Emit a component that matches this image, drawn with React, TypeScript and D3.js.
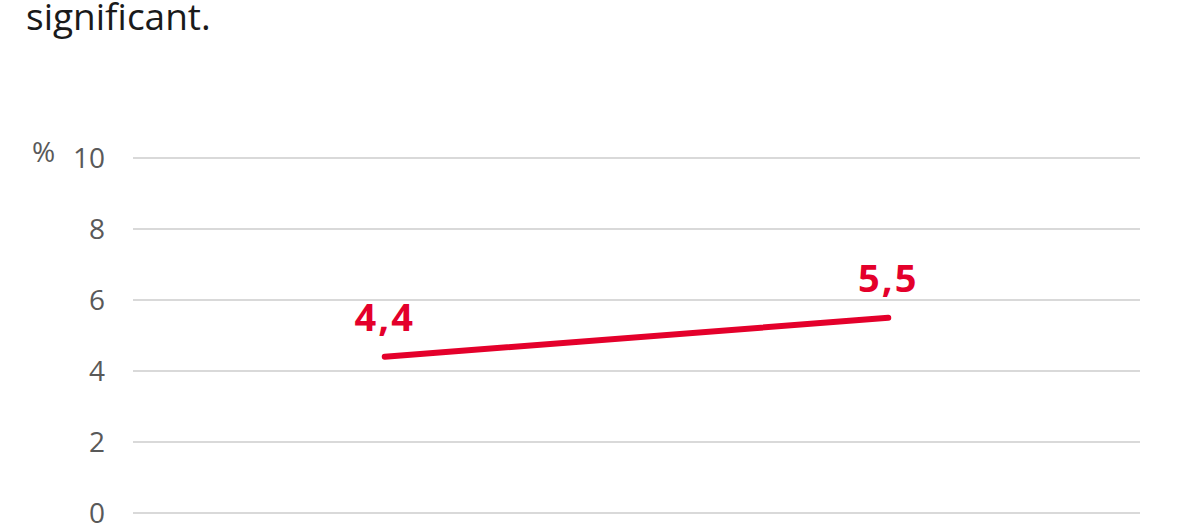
import React, { useRef, useEffect } from 'react';
import * as d3 from 'd3';

const categories = ['A', 'B'];
const values = [4.4, 5.5];
const valueLabels = ['4,4', '5,5'];
const yTicks = [0, 2, 4, 6, 8, 10];
const titleText = 'significant.';

const App: React.FC = () => {
    const svgRef = useRef<SVGSVGElement | null>(null);

    useEffect(() => {
        if (!svgRef.current) return;

        const width = 1185;
        const height = 526;
        const left = 133;
        const right = 1140;
        const top = 158;
        const bottom = 513;
        const red = '#e4002b';

        const svg = d3.select(svgRef.current);
        svg.selectAll('*').remove();

        const x = d3.scaleBand<string>()
            .domain(categories)
            .range([left, right])
            .padding(0);

        const y = d3.scaleLinear()
            .domain([0, 10])
            .range([bottom, top]);

        svg.append('text')
            .attr('x', 26)
            .attr('y', 30)
            .attr('font-family', '"Open Sans", sans-serif')
            .attr('font-size', 37)
            .attr('fill', '#1a1a1a')
            .text(titleText);

        // gridlines
        svg.append('g')
            .selectAll('line')
            .data(yTicks)
            .join('line')
            .attr('x1', left)
            .attr('x2', right)
            .attr('y1', d => y(d))
            .attr('y2', d => y(d))
            .attr('stroke', '#d9d9d9')
            .attr('stroke-width', 2);

        // tick labels
        svg.append('g')
            .selectAll('text')
            .data(yTicks)
            .join('text')
            .attr('x', 105)
            .attr('y', d => y(d))
            .attr('dy', '0.36em')
            .attr('text-anchor', 'end')
            .attr('font-family', '"Open Sans", sans-serif')
            .attr('font-size', 28)
            .attr('fill', '#595959')
            .text(d => d);

        svg.append('text')
            .attr('x', 32)
            .attr('y', y(10) + 4)
            .attr('font-family', '"Open Sans", sans-serif')
            .attr('font-size', 28)
            .attr('fill', '#595959')
            .text('%');

        const cx = (c: string) => (x(c) || 0) + x.bandwidth() / 2;

        const line = d3.line<number>()
            .x((d, i) => cx(categories[i]))
            .y(d => y(d));

        svg.append('path')
            .datum(values)
            .attr('d', line)
            .attr('fill', 'none')
            .attr('stroke', red)
            .attr('stroke-width', 6)
            .attr('stroke-linecap', 'round');

        svg.append('g')
            .selectAll('text')
            .data(values)
            .join('text')
            .attr('x', (d, i) => cx(categories[i]))
            .attr('y', d => y(d) - 26)
            .attr('text-anchor', 'middle')
            .attr('font-family', '"Open Sans", sans-serif')
            .attr('font-weight', 'bold')
            .attr('font-size', 38)
            .attr('letter-spacing', 2)
            .attr('fill', red)
            .text((d, i) => valueLabels[i]);

        svg.attr('width', width).attr('height', height);
    }, []);

    return (
        <svg
            ref={svgRef}
            width={1185}
            height={526}
            style={{ position: 'absolute', left: 0, top: 0, display: 'block' }}
        />
    );
};

export default App;
